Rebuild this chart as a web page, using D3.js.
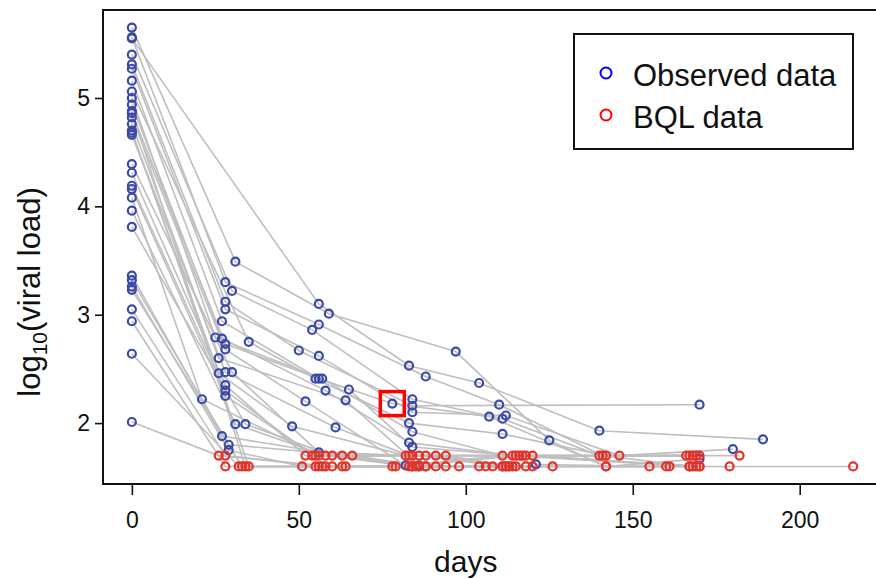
<!DOCTYPE html>
<html>
<head>
<meta charset="utf-8">
<script src="https://cdn.jsdelivr.net/npm/d3@7"></script>
<style>
  body { margin: 0; background: #fff; }
  text { font-family: "Liberation Sans", Arial, sans-serif; fill: #111; }
</style>
</head>
<body>
<svg id="chart" width="876" height="579"></svg>
<script>
// one row per subject: visit days, log10 viral load, BQL flag (1 = below limit)
const visitDay = [
  [0, 31, 59, 97, 125, 142, 170],
  [0, 56, 83, 104, 140, 189],
  [0, 28, 56, 88, 110, 141, 168],
  [0, 30, 54, 84, 111, 140, 166],
  [0, 28, 50, 84, 170],
  [0, 28, 56, 84, 112, 146, 180],
  [0, 27, 56, 78, 107, 142, 170],
  [0, 35, 55, 83, 111, 142, 167],
  [0, 25, 57, 84, 121, 155],
  [0, 27, 58, 83, 114, 167],
  [0, 28, 65, 84, 115, 168],
  [0, 28, 52, 82, 111, 169],
  [0, 26, 64, 86, 116, 170],
  [0, 26, 48, 82, 117, 182],
  [0, 28, 61, 83, 118, 169],
  [0, 30, 56, 84, 120, 170],
  [0, 28, 52, 86, 111, 179, 216],
  [0, 28, 54, 88, 112, 167],
  [0, 28, 55, 91, 113, 160],
  [0, 21, 56, 94, 114, 161],
  [0, 31, 58, 84, 115],
  [0, 34, 60, 85, 118],
  [0, 27, 63, 86, 120],
  [0, 29, 66, 88, 126],
  [0, 29, 51, 91, 108],
  [0, 33, 55, 94, 106],
  [0, 28, 56, 78, 104],
  [0, 28, 57, 79, 98],
  [0, 32, 58, 83],
  [0, 26, 60, 84, 111],
  [0, 34, 63, 86, 112],
  [0, 35, 64, 88, 113]
]
const logVL = [
  [5.65, 3.49, 3.01, 2.66, 1.84, 1.6, 1.6],
  [5.55, 3.10, 2.53, 2.37, 1.93, 1.85],
  [5.56, 3.30, 2.91, 2.43, 2.17, 1.7, 1.6],
  [5.40, 3.22, 2.86, 2.22, 2.04, 1.7, 1.7],
  [5.31, 3.12, 2.67, 2.16, 2.17],
  [5.27, 3.05, 2.62, 2.10, 2.07, 1.7, 1.76],
  [5.16, 2.94, 2.41, 2.18, 2.06, 1.6, 1.67],
  [5.06, 2.75, 2.41, 2.00, 1.90, 1.7, 1.7],
  [5.00, 2.79, 2.41, 1.92, 1.62, 1.6],
  [4.94, 2.78, 2.30, 1.82, 1.7, 1.6],
  [4.86, 2.73, 2.31, 1.78, 1.7, 1.7],
  [4.82, 2.68, 2.20, 1.61, 1.7, 1.7],
  [4.76, 2.60, 2.21, 1.61, 1.7, 1.7],
  [4.68, 2.46, 1.97, 1.7, 1.7, 1.7],
  [4.66, 2.47, 1.96, 1.7, 1.7, 1.6],
  [4.39, 2.47, 1.73, 1.7, 1.7, 1.6],
  [4.31, 2.35, 1.7, 1.7, 1.6, 1.6, 1.6],
  [4.19, 2.30, 1.7, 1.7, 1.6, 1.6],
  [4.16, 2.25, 1.7, 1.7, 1.6, 1.6],
  [4.08, 2.22, 1.7, 1.7, 1.6, 1.6],
  [3.96, 1.99, 1.7, 1.6, 1.6],
  [3.81, 1.99, 1.7, 1.6, 1.6],
  [3.36, 1.88, 1.7, 1.6, 1.6],
  [3.32, 1.80, 1.7, 1.6, 1.6],
  [3.26, 1.75, 1.6, 1.6, 1.6],
  [3.23, 1.6, 1.6, 1.6, 1.6],
  [3.05, 1.7, 1.6, 1.6, 1.6],
  [2.94, 1.6, 1.6, 1.6, 1.6],
  [2.64, 1.6, 1.6, 1.6],
  [2.01, 1.7, 1.6, 1.6, 1.6],
  [4.88, 1.6, 1.6, 1.6, 1.6],
  [4.70, 1.6, 1.6, 1.6, 1.6]
]
const isBQL = [
  [0, 0, 0, 0, 0, 1, 1],
  [0, 0, 0, 0, 0, 0],
  [0, 0, 0, 0, 0, 1, 1],
  [0, 0, 0, 0, 0, 1, 1],
  [0, 0, 0, 0, 0],
  [0, 0, 0, 0, 0, 1, 0],
  [0, 0, 0, 0, 0, 1, 0],
  [0, 0, 0, 0, 0, 1, 1],
  [0, 0, 0, 0, 0, 1],
  [0, 0, 0, 0, 1, 1],
  [0, 0, 0, 0, 1, 1],
  [0, 0, 0, 0, 1, 1],
  [0, 0, 0, 0, 1, 1],
  [0, 0, 0, 1, 1, 1],
  [0, 0, 0, 1, 1, 1],
  [0, 0, 0, 1, 1, 1],
  [0, 0, 1, 1, 1, 1, 1],
  [0, 0, 1, 1, 1, 1],
  [0, 0, 1, 1, 1, 1],
  [0, 0, 1, 1, 1, 1],
  [0, 0, 1, 1, 1],
  [0, 0, 1, 1, 1],
  [0, 0, 1, 1, 1],
  [0, 0, 1, 1, 1],
  [0, 0, 1, 1, 1],
  [0, 1, 1, 1, 1],
  [0, 1, 1, 1, 1],
  [0, 1, 1, 1, 1],
  [0, 1, 1, 1],
  [0, 1, 1, 1, 1],
  [0, 1, 1, 1, 1],
  [0, 1, 1, 1, 1]
]
const xTicks = [0, 50, 100, 150, 200]
const yTicks = [2, 3, 4, 5]
const legendLabels = ["Observed data", "BQL data"]
// the point marked with a red square
const highlightDay = 78
const highlightVL = 2.18

const blue = "#3b4aa9", red = "#e2332b", grey = "#bfbfbf"

// R style padded ranges (4% each side)
const x = d3.scaleLinear().domain([-8.64, 224.64]).range([103, 882])
const y = d3.scaleLinear().domain([1.438, 5.812]).range([484, 10])

const svg = d3.select("#chart")

// build long table
let subjects = visitDay.map((days, i) => days.map((d, j) => ({
    day: d, vl: logVL[i][j], bql: isBQL[i][j] === 1
})))

let line = d3.line().x(d => x(d.day)).y(d => y(d.vl))

let gLines = svg.append("g")
gLines.selectAll("path")
    .data(subjects)
    .join("path")
    .attr("d", line)
    .attr("fill", "none")
    .attr("stroke", grey)
    .attr("stroke-width", 1.6)

let allPts = subjects.flat()
svg.append("g")
    .selectAll("circle")
    .data(allPts)
    .join("circle")
    .attr("cx", d => x(d.day))
    .attr("cy", d => y(d.vl))
    .attr("r", 4)
    .attr("fill", "none")
    .attr("stroke", d => d.bql ? red : blue)
    .attr("stroke-width", 2.2)

// highlight square
svg.append("rect")
    .attr("x", x(highlightDay) - 12)
    .attr("y", y(highlightVL) - 12)
    .attr("width", 24)
    .attr("height", 24)
    .attr("fill", "none")
    .attr("stroke", "#ff0000")
    .attr("stroke-width", 3.5)

// frame
svg.append("rect")
    .attr("x", 103).attr("y", 10)
    .attr("width", 779).attr("height", 474)
    .attr("fill", "none")
    .attr("stroke", "#111")
    .attr("stroke-width", 2)

// x axis
let xAxis = svg.append("g")
    .attr("transform", "translate(0,484)")
    .call(d3.axisBottom(x).tickValues(xTicks).tickSize(11).tickPadding(17))
xAxis.select(".domain").remove()
xAxis.selectAll("line").attr("stroke", "#111").attr("stroke-width", 1.6)
xAxis.selectAll("text").style("font-size", "23px").attr("fill", "#111")

// y axis
let yAxis = svg.append("g")
    .attr("transform", "translate(103,0)")
    .call(d3.axisLeft(y).tickValues(yTicks).tickFormat(d3.format("d")).tickSize(8).tickPadding(5))
yAxis.select(".domain").remove()
yAxis.selectAll("line").attr("stroke", "#111").attr("stroke-width", 1.6)
yAxis.selectAll("text").style("font-size", "23px").attr("fill", "#111")

// axis titles
svg.append("text")
    .attr("x", x(100)).attr("y", 572)
    .attr("text-anchor", "middle")
    .style("font-size", "30px")
    .text("days")

let yTitle = svg.append("text")
    .attr("transform", "translate(40,292) rotate(-90)")
    .attr("text-anchor", "middle")
    .style("font-size", "31px")
yTitle.append("tspan").text("log")
yTitle.append("tspan").attr("dy", 7).style("font-size", "21px").text("10")
yTitle.append("tspan").attr("dy", -7).text("(viral load)")

// legend
let lg = svg.append("g")
lg.append("rect")
    .attr("x", 574).attr("y", 34)
    .attr("width", 279).attr("height", 115)
    .attr("fill", "#fff")
    .attr("stroke", "#111")
    .attr("stroke-width", 2)
lg.selectAll("circle")
    .data(legendLabels)
    .join("circle")
    .attr("cx", 606)
    .attr("cy", (d, i) => 73 + i * 42)
    .attr("r", 5.5)
    .attr("fill", "none")
    .attr("stroke", (d, i) => i === 0 ? "#0000ff" : "#ff0000")
    .attr("stroke-width", 2)
lg.selectAll("text")
    .data(legendLabels)
    .join("text")
    .attr("x", 633)
    .attr("y", (d, i) => 86 + i * 42)
    .style("font-size", "31px")
    .text(d => d)
</script>
</body>
</html>
